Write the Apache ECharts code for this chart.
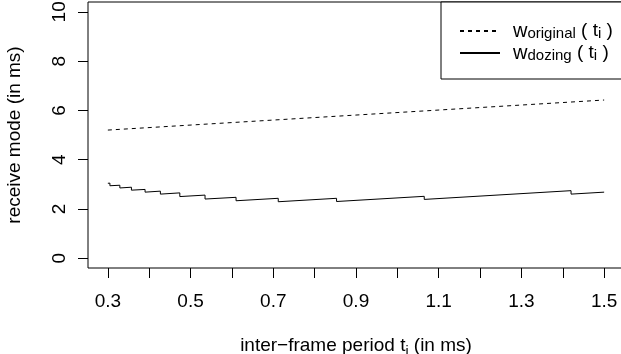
<!DOCTYPE html>
<html>
<head>
<meta charset="utf-8">
<script src="https://cdn.jsdelivr.net/npm/echarts@6/dist/echarts.min.js"></script>
<style>
  html, body { margin: 0; padding: 0; background: #fff; }
  #chart { width: 621px; height: 354px; }
</style>
</head>
<body>
<div id="chart"></div>
<script>
// w_original(t): straight dashed line
const originalT = [0.3, 1.5];
const originalW = [5.2, 6.42];

// w_dozing(t): sawtooth, each drop is two points at the same t
const dozingT = [0.300, 0.305, 0.305, 0.329, 0.329, 0.357, 0.357, 0.390, 0.390, 0.427, 0.427,
  0.474, 0.474, 0.535, 0.535, 0.610, 0.610, 0.712, 0.712, 0.853, 0.853, 1.065, 1.065, 1.420, 1.420, 1.500];
const dozingW = [3.04, 3.045, 2.94, 2.96, 2.85, 2.88, 2.76, 2.79, 2.68, 2.72, 2.60,
  2.65, 2.50, 2.56, 2.40, 2.47, 2.33, 2.43, 2.29, 2.43, 2.30, 2.51, 2.385, 2.74, 2.60, 2.68];

// axis ticks / labels
const xTicks = [0.3, 0.4, 0.5, 0.6, 0.7, 0.8, 0.9, 1.0, 1.1, 1.2, 1.3, 1.4, 1.5];
const xLabels = [0.3, 0.5, 0.7, 0.9, 1.1, 1.3, 1.5];
const yTicks = [0, 2, 4, 6, 8, 10];

const FONT = "Liberation Sans";
const chart = echarts.init(document.getElementById("chart"));

const zip = (a, b) => a.map((v, i) => [v, b[i]]);

const legendRich = {
  w: { fontFamily: FONT, fontSize: 20, color: "#000", verticalAlign: "middle", lineHeight: 20 },
  m: { fontFamily: FONT, fontSize: 19, color: "#000", verticalAlign: "middle", lineHeight: 20 },
  s: { fontFamily: FONT, fontSize: 15, color: "#000", verticalAlign: "bottom", lineHeight: 20 }
};

chart.setOption({
  animation: false,
  backgroundColor: "#fff",
  grid: {
    left: 88, right: -3, top: 2, bottom: 86,
    outerBoundsMode: "none",
    containLabel: false,
    show: true, borderColor: "#000", borderWidth: 1, backgroundColor: "transparent"
  },
  legend: {
    left: 441, top: 2,
    orient: "vertical",
    itemWidth: 40, itemHeight: 14, itemGap: 2,
    padding: [19, 20, 16, 18],
    borderColor: "#000", borderWidth: 1, borderRadius: 0,
    backgroundColor: "#fff",
    itemStyle: { opacity: 0 },
    data: ["original", "dozing"],
    formatter: function (name) {
      return "{w|w}{s|" + name + "}{m| ( t}{s|i}{m| )}";
    },
    textStyle: { padding: [0, 0, 0, 8], rich: legendRich }
  },
  xAxis: {
    type: "value",
    min: 0.252, max: 1.548,
    name: "{m|inter\u2212frame period t}{s|i}{m| (in ms)}",
    nameLocation: "middle",
    nameGap: 65,
    nameTextStyle: {
      rich: {
        m: { fontFamily: FONT, fontSize: 19, color: "#000", verticalAlign: "middle", lineHeight: 26 },
        s: { fontFamily: FONT, fontSize: 14, color: "#000", verticalAlign: "bottom", lineHeight: 26 }
      }
    },
    axisLine: { show: false, onZero: false },
    axisTick: { show: true, inside: false, length: 10, customValues: xTicks, lineStyle: { color: "#000" } },
    axisLabel: { customValues: xLabels, margin: 24, fontFamily: FONT, fontSize: 19, color: "#000",
      formatter: v => v.toFixed(1) },
    splitLine: { show: false }
  },
  yAxis: {
    type: "value",
    min: -0.4, max: 10.4,
    name: "receive mode (in ms)",
    nameLocation: "middle",
    nameRotate: 90,
    nameGap: 64,
    nameTextStyle: { fontFamily: FONT, fontSize: 19, color: "#000" },
    axisLine: { show: false, onZero: false },
    axisTick: { show: true, inside: false, length: 10, customValues: yTicks, lineStyle: { color: "#000" } },
    axisLabel: { customValues: yTicks, rotate: 90, margin: 19, fontFamily: FONT, fontSize: 19, color: "#000" },
    splitLine: { show: false }
  },
  series: [
    {
      name: "original",
      type: "line",
      data: zip(originalT, originalW),
      symbol: "none",
      color: "#000",
      lineStyle: { color: "#000", width: 1, type: [4, 4] }
    },
    {
      name: "dozing",
      type: "line",
      data: zip(dozingT, dozingW),
      symbol: "none",
      color: "#000",
      lineStyle: { color: "#000", width: 1, type: "solid" }
    }
  ]
});
</script>
</body>
</html>
